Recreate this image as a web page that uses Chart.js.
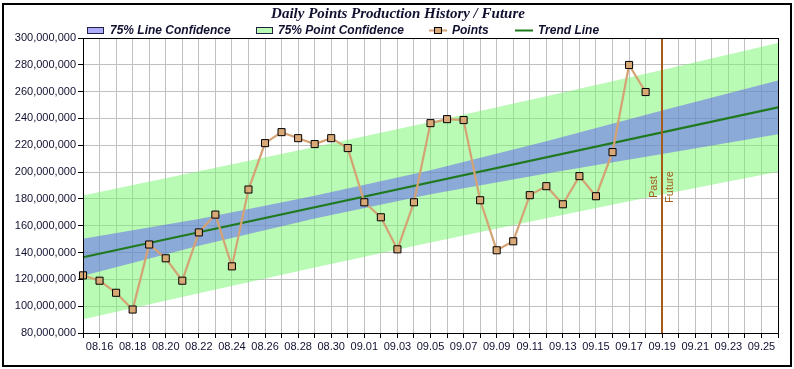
<!DOCTYPE html>
<html>
<head>
<meta charset="utf-8">
<script src="https://cdn.jsdelivr.net/npm/chart.js@4/dist/chart.umd.min.js"></script>
<style>
  html, body { margin: 0; padding: 0; background: #fff; }
  #wrap { position: relative; width: 794px; height: 369px; }
</style>
</head>
<body>
<div id="wrap"><canvas id="c" width="794" height="369"></canvas></div>
<script>
// ---- data ----
const chartTitle = 'Daily Points Production History / Future';
const dateLabels = ['08.15','08.16','08.17','08.18','08.19','08.20','08.21','08.22','08.23','08.24','08.25','08.26','08.27','08.28','08.29','08.30','08.31',
  '09.01','09.02','09.03','09.04','09.05','09.06','09.07','09.08','09.09','09.10','09.11','09.12','09.13','09.14','09.15','09.16','09.17','09.18','09.19',
  '09.20','09.21','09.22','09.23','09.24','09.25','09.26'];
const pointDates = dateLabels.slice(0, 35);
const pointValues = [123.0e6,119.0e6,110.0e6,97.5e6,146.0e6,135.7e6,119.0e6,155.0e6,168.3e6,129.7e6,187.0e6,221.6e6,229.8e6,225.3e6,220.9e6,225.3e6,217.9e6,
  177.5e6,166.3e6,142.4e6,177.5e6,236.5e6,239.5e6,238.8e6,179.0e6,141.7e6,148.4e6,182.8e6,189.5e6,176.0e6,197.0e6,182.0e6,214.9e6,279.9e6,259.7e6];
const trendDates = ['08.15','09.26'];
const trendValues = [136.5e6, 248.3e6];
const bandDates = ['08.15','08.22','08.29','09.05','09.12','09.19','09.26'];
const lineConfUpper = [150.3e6,165.1e6,182.3e6,201.4e6,223.0e6,246.0e6,268.3e6];
const lineConfLower = [122.7e6,145.1e6,165.3e6,183.4e6,199.0e6,213.4e6,228.3e6];
const pointConfUpper = [182.5e6,200.6e6,218.8e6,237.4e6,256.5e6,276.2e6,296.3e6];
const pointConfLower = [90.3e6,109.6e6,128.8e6,147.4e6,165.5e6,183.2e6,200.3e6];
const pastFutureDate = '09.19';
const legendNames = ['75% Line Confidence','75% Point Confidence','Points','Trend Line'];

// ---- styles ----
const SANS = 'Arial, "Liberation Sans", sans-serif';
const SERIF = '"Times New Roman", "Liberation Serif", serif';
const TEXT = '#101030';
const GREEN_FILL = 'rgba(115,245,105,0.5)';
const BLUE_FILL = 'rgba(95,90,250,0.5)';
const PT_LINE = '#d4a273';
const PT_FILL = '#d9a877';
const TREND = '#1f7a1f';
const PF = '#a45c18';

function zip(xs, ys) { return xs.map((x, i) => ({ x: x, y: ys[i] })); }

const framePlugin = {
  id: 'frame',
  beforeDraw(chart) {
    const ctx = chart.ctx;
    ctx.save();
    ctx.fillStyle = '#fff';
    ctx.fillRect(0, 0, chart.width, chart.height);
    ctx.restore();
  },
  afterDatasetsDraw(chart) {
    const ctx = chart.ctx;
    const a = chart.chartArea;
    const xs = chart.scales.x;
    // past / future line
    const px = Math.round(xs.getPixelForValue(dateLabels.indexOf(pastFutureDate)));
    ctx.save();
    ctx.strokeStyle = PF;
    ctx.lineWidth = 2;
    ctx.beginPath();
    ctx.moveTo(px, a.top);
    ctx.lineTo(px, a.bottom);
    ctx.stroke();
    ctx.fillStyle = PF;
    ctx.font = '11px ' + SANS;
    ctx.textAlign = 'center';
    ctx.textBaseline = 'middle';
    ctx.translate(px - 8, 187);
    ctx.rotate(-Math.PI / 2);
    ctx.fillText('Past', 0, 0);
    ctx.restore();
    ctx.save();
    ctx.fillStyle = PF;
    ctx.font = '11px ' + SANS;
    ctx.textAlign = 'center';
    ctx.textBaseline = 'middle';
    ctx.translate(px + 8, 187);
    ctx.rotate(-Math.PI / 2);
    ctx.fillText('Future', 0, 0);
    ctx.restore();
    // plot border
    ctx.save();
    ctx.strokeStyle = '#000';
    ctx.lineWidth = 1;
    ctx.strokeRect(Math.round(a.left) + 0.5, Math.round(a.top) + 0.5, Math.round(a.right - a.left), Math.round(a.bottom - a.top));
    ctx.restore();
  },
  afterDraw(chart) {
    const ctx = chart.ctx;
    ctx.save();
    // outer frame
    ctx.strokeStyle = '#000';
    ctx.lineWidth = 2;
    ctx.strokeRect(3, 4, 788, 362);
    // title
    ctx.fillStyle = TEXT;
    ctx.font = 'italic bold 15px ' + SERIF;
    ctx.textAlign = 'center';
    ctx.textBaseline = 'middle';
    ctx.fillText(chartTitle, 398, 14);
    // legend
    const ly = 30.5;
    ctx.font = 'italic bold 12px ' + SANS;
    ctx.textAlign = 'left';
    ctx.textBaseline = 'middle';
    // box 1
    ctx.fillStyle = '#fff';
    ctx.fillRect(87, 27, 17, 7);
    ctx.fillStyle = BLUE_FILL;
    ctx.fillRect(87, 27, 17, 7);
    ctx.strokeStyle = '#202040';
    ctx.lineWidth = 1;
    ctx.strokeRect(87.5, 27.5, 16, 6);
    ctx.fillStyle = TEXT;
    ctx.fillText(legendNames[0], 110, ly);
    // box 2
    ctx.fillStyle = GREEN_FILL;
    ctx.fillRect(256, 27, 17, 7);
    ctx.strokeRect(256.5, 27.5, 16, 6);
    ctx.fillStyle = TEXT;
    ctx.fillText(legendNames[1], 278, ly);
    // points
    ctx.strokeStyle = PT_LINE;
    ctx.lineWidth = 2;
    ctx.beginPath();
    ctx.moveTo(429, ly);
    ctx.lineTo(447, ly);
    ctx.stroke();
    ctx.fillStyle = PT_FILL;
    ctx.fillRect(435, 27.5, 6, 6);
    ctx.strokeStyle = '#000';
    ctx.lineWidth = 1;
    ctx.strokeRect(434.5, 27.5, 7, 6);
    ctx.fillStyle = TEXT;
    ctx.fillText(legendNames[2], 452, ly);
    // trend
    ctx.strokeStyle = TREND;
    ctx.lineWidth = 2;
    ctx.beginPath();
    ctx.moveTo(515, ly);
    ctx.lineTo(533, ly);
    ctx.stroke();
    ctx.fillStyle = TEXT;
    ctx.fillText(legendNames[3], 538, ly);
    ctx.restore();
  }
};

new Chart(document.getElementById('c'), {
  type: 'line',
  data: {
    labels: dateLabels,
    datasets: [
      { label: 'pcu', data: zip(bandDates, pointConfUpper), borderWidth: 0, pointRadius: 0, fill: '+1', backgroundColor: GREEN_FILL, borderColor: 'rgba(0,0,0,0)', order: 6, tension: 0 },
      { label: 'pcl', data: zip(bandDates, pointConfLower), borderWidth: 0, pointRadius: 0, fill: false, borderColor: 'rgba(0,0,0,0)', order: 5, tension: 0 },
      { label: 'lcu', data: zip(bandDates, lineConfUpper), borderWidth: 0, pointRadius: 0, fill: '+1', backgroundColor: BLUE_FILL, borderColor: 'rgba(0,0,0,0)', order: 4, tension: 0 },
      { label: 'lcl', data: zip(bandDates, lineConfLower), borderWidth: 0, pointRadius: 0, fill: false, borderColor: 'rgba(0,0,0,0)', order: 3, tension: 0 },
      { label: 'Trend Line', data: zip(trendDates, trendValues), borderWidth: 2.2, borderColor: TREND, pointRadius: 0, fill: false, order: 2, tension: 0 },
      { label: 'Points', data: zip(pointDates, pointValues), borderWidth: 2.2, borderColor: PT_LINE, pointStyle: 'rect', pointRadius: 5, pointBackgroundColor: PT_FILL, pointBorderColor: '#000', pointBorderWidth: 1, fill: false, order: 1, tension: 0 }
    ]
  },
  options: {
    responsive: false,
    animation: false,
    events: [],
    layout: { padding: { left: 0, top: 38, right: 16, bottom: 0 } },
    plugins: { legend: { display: false }, title: { display: false }, tooltip: { enabled: false } },
    scales: {
      x: {
        type: 'category',
        offset: false,
        grid: { color: '#c0c0c0', lineWidth: 1, tickColor: '#000', tickLength: 5, drawTicks: true },
        border: { display: true, color: '#000' },
        ticks: {
          autoSkip: false, maxRotation: 0, minRotation: 0, padding: 2,
          color: TEXT, font: { family: SANS, size: 11 },
          callback: function (v, i) { return i % 2 === 1 ? dateLabels[i] : ''; }
        },
        afterFit: function (s) { s.height = 36; }
      },
      y: {
        min: 80e6, max: 300e6,
        grid: { color: '#c0c0c0', lineWidth: 1, tickColor: '#000', tickLength: 5, drawTicks: true },
        border: { display: true, color: '#000' },
        ticks: {
          stepSize: 20e6, padding: 2, color: TEXT, font: { family: SANS, size: 11 },
          callback: function (v) { return Number(v).toLocaleString('en-US'); }
        },
        afterFit: function (s) { s.width = 83; }
      }
    }
  },
  plugins: [framePlugin]
});
</script>
</body>
</html>
